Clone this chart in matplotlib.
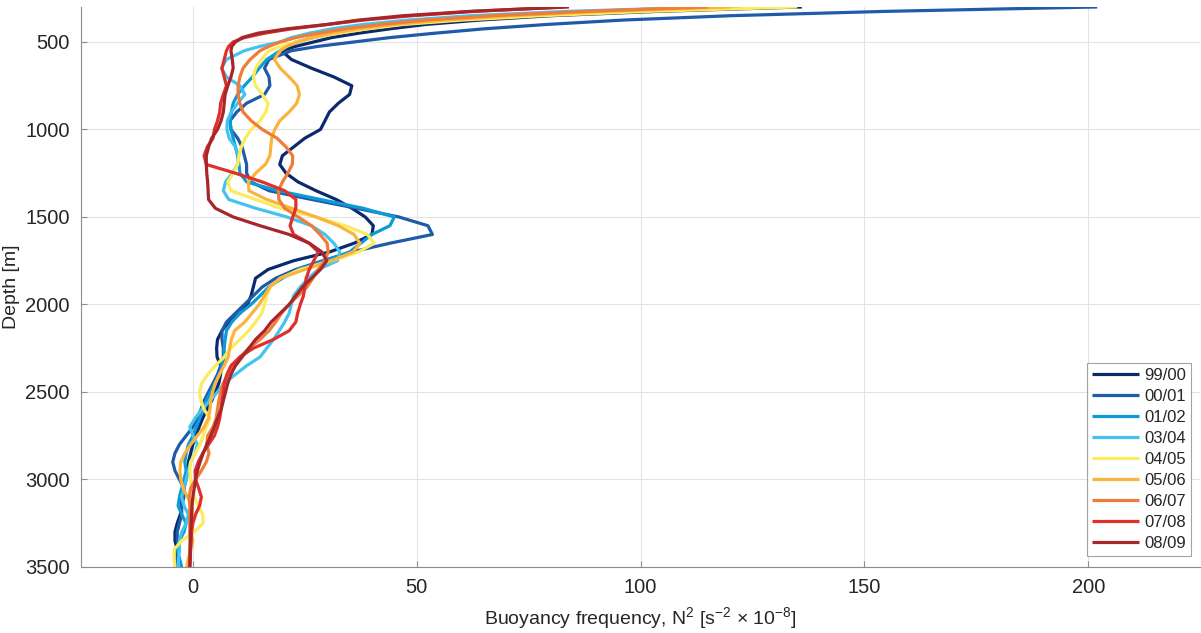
import matplotlib
matplotlib.use("Agg")
import matplotlib.pyplot as plt

plt.rcParams['font.family'] = ['Liberation Sans', 'DejaVu Sans']
plt.rcParams['mathtext.default'] = 'regular'

# sampling depths (m)
depth = [300, 325, 350, 375, 400, 425, 450, 475, 500, 525, 550,
         600, 650, 700, 750, 800, 850, 900, 950, 1000, 1050,
         1100, 1150, 1200, 1250, 1300, 1350, 1400, 1450, 1500, 1550,
         1600, 1650, 1700, 1750, 1800, 1850, 1900, 1950, 2000, 2050,
         2100, 2150, 2200, 2250, 2300, 2350, 2400, 2450, 2500, 2550,
         2600, 2650, 2700, 2750, 2800, 2850, 2900, 2950, 3000, 3050,
         3100, 3150, 3200, 3250, 3300, 3350, 3400, 3450, 3500]

# N^2 profiles, 1e-8 s^-2
n2_9900 = [136, 104, 80, 64, 52, 44, 37, 31, 27, 23, 19.8,
           22, 26.5, 31.5, 35.5, 35, 32.5, 30.5, 29.5, 28.5, 25,
           22.5, 20, 19.4, 20.8, 23.5, 27.5, 32, 35.5, 38.5, 40.3,
           40, 36, 30.5, 22.5, 16.8, 14, 13.5, 13, 12.2, 10.5,
           8, 6.5, 5.5, 5.3, 5.4, 6.2, 6.2, 5.8, 5, 4.2,
           3.1, 2.2, 1.4, 0.6, 0, -0.5, -1, -1.2, -1.5, -2,
           -2.5, -2.5, -2.8, -3.5, -4, -4, -3.5, -3.5, -3.5]
n2_0001 = [202, 155, 120, 96, 79, 65, 54, 44, 36, 28, 22,
           17, 16, 17, 17.2, 16, 12, 9.8, 8.3, 8.5, 10,
           11, 11.5, 12, 12, 13, 17, 26.5, 36.5, 46, 52.5,
           53.5, 44, 35.5, 29, 23, 18.5, 15.5, 13.5, 11.5, 9.5,
           7.5, 6.5, 6.5, 6.8, 6.8, 6.2, 5.5, 4.5, 3.5, 2.5,
           1.8, 1, 0, -1.5, -3, -4, -4.5, -4, -3, -2,
           -2, -2.5, -2.5, -3, -3.5, -3.5, -3, -3.5, -3.5]
n2_0102 = [116, 90, 70, 56, 46, 38, 32, 27, 23, 21, 19.5,
           16.5, 14.8, 13.3, 11.5, 10, 9, 8.6, 8.3, 8.5, 9,
           9.5, 10, 10.3, 10.5, 12, 19, 28.5, 38, 45, 44,
           40, 37.5, 35, 29.5, 23.5, 20, 17, 15, 13, 10.5,
           8.7, 7.5, 7.2, 7, 7, 6.5, 6, 5, 4, 3,
           2.2, 1.5, 0.8, 0, -1, -1.5, -1.8, -1.5, -2, -2.5,
           -3, -3.3, -2.5, -1.5, -2, -3, -3.5, -3, -2.5]
n2_0304 = [116, 84, 62, 48, 38, 31, 26, 22, 19.5, 15, 11.5,
           7.5, 6.4, 7.5, 10.5, 11.6, 10, 8.6, 7.7, 7.6, 8.1,
           9.5, 10.2, 10, 8.8, 7.3, 6.8, 8, 14, 21, 26.5,
           29.5, 31.5, 32.8, 32.3, 28, 25.8, 24, 22.5, 22, 21.5,
           20.5, 19.3, 18, 16.5, 15, 12, 9.5, 7, 5.5, 3.8,
           2, 0.5, -0.7, 0, 1, 0.5, -0.5, -1, -1.5, -2,
           -2.5, -2, -1, -1.5, -2.5, -3, -3, -3.2, -3.3]
n2_0405 = [135, 102, 78, 60, 47, 39, 32.5, 27, 23, 19.5, 17,
           15.3, 14, 13.5, 14, 15.5, 16.8, 16.3, 15, 13, 11.7,
           10.8, 10.3, 10, 9, 7.8, 8.5, 14, 19.5, 27.5, 34,
           39, 40.5, 37, 31, 24, 19.5, 17.3, 16.5, 16, 15.4,
           14, 12.5, 10.5, 8.5, 7, 5, 3.3, 2, 1.5, 1.8,
           2.5, 3.8, 3, 2.3, 1.6, 0.5, -0.5, -0.7, -0.5, -0.3,
           0.3, 1.2, 2.2, 2.3, 0.3, -2.5, -4.2, -4.2, -4]
n2_0506 = [120, 92, 71, 56, 45, 37, 31, 26.5, 23.5, 21, 19.5,
           18.2, 19.5, 21.5, 23.3, 23.8, 23.2, 21.5, 19.4, 18.3, 17.6,
           17.4, 17.2, 16.2, 14, 12.4, 12.5, 16.5, 22, 27.5, 32.5,
           36, 37.3, 35.8, 31, 25, 19.5, 17.2, 16, 14.8, 13.2,
           11.6, 9.3, 8.6, 8.2, 7.9, 7, 5.9, 5, 4.4, 4,
           3.8, 3.5, 2.5, 1, -0.5, -1.8, -2.7, -2.9, -2.7, -2.2,
           -1.2, -0.2, 0, -0.5, -0.5, 0, -0.5, -1, -1.4]
n2_0607 = [115, 88, 67, 52, 42, 34, 28, 23, 19.5, 17, 15,
           12.8, 11.2, 10.5, 10.1, 10.1, 10.5, 11.2, 13, 15.5, 18.8,
           20.8, 22.3, 22.2, 21.2, 20, 19.1, 19.2, 20.5, 23.5, 26.5,
           28.4, 30, 30.2, 29.5, 28, 26.8, 25.5, 23.5, 21.5, 19.8,
           18.5, 17, 15, 12.5, 10.5, 9, 7.8, 6.8, 6.2, 5.8,
           5.5, 5.2, 4.5, 3.3, 3.1, 3.6, 3, 1.9, 0.6, -0.5,
           -0.8, -0.7, -0.7, -0.7, -0.7, -0.7, -0.7, -0.7, -0.7]
n2_0708 = [83, 63, 49, 38, 30, 22, 16, 11.5, 9, 8, 7.5,
           7, 6.5, 7, 7.5, 6.8, 6.2, 6, 5.5, 4.8, 4.5,
           3.2, 2.5, 3, 9.5, 15.5, 20.5, 23, 23, 22.3, 21.7,
           22.5, 26, 28, 27, 26, 25.3, 25, 24.7, 24, 23.4,
           23, 21.5, 18, 13.5, 10.5, 8.5, 7.6, 7, 6.8, 6.5,
           6.3, 6, 5.5, 4.8, 3.5, 2.2, 1.2, 0.5, 0.6, 1.3,
           1.9, 1.5, 0.6, 0, -0.3, -0.4, -0.5, -0.6, -0.7]
n2_0809 = [84, 62, 47, 37, 30, 21, 14.5, 11, 9.5, 8.7, 8.5,
           8.8, 9, 8.5, 7.8, 7.2, 7, 6.8, 6.3, 5.5, 4.2,
           3.5, 3, 3, 3.1, 3.3, 3.4, 3.5, 5, 9, 15,
           21.5, 26, 28.8, 29.9, 28.5, 26.5, 24.5, 23, 21.5, 19.5,
           17.5, 16, 14, 12.5, 11, 9.5, 8.5, 7.8, 7.3, 6.8,
           6.3, 5.5, 4.8, 4, 3.1, 2.3, 1.6, 1, 0.6, 0.3,
           0, -0.2, -0.3, -0.4, -0.5, -0.5, -0.6, -0.6, -0.7]

labels = ['99/00', '00/01', '01/02', '03/04', '04/05', '05/06', '06/07', '07/08', '08/09']
colors = ['#0b2a6e', '#1f5ba8', '#0d9bd8', '#43c3ef', '#fbec5d',
          '#fab43e', '#f07c39', '#df302c', '#a6262b']
profiles = [n2_9900, n2_0001, n2_0102, n2_0304, n2_0405,
            n2_0506, n2_0607, n2_0708, n2_0809]

fig = plt.figure(figsize=(12.01, 6.33), dpi=100)
ax = fig.add_axes([0.0674, 0.1043, 0.932, 0.8847])

for lab, vals, col in zip(labels, profiles, colors):
    ax.plot(vals, depth, color=col, lw=2.3, label=lab,
            solid_joinstyle='round', solid_capstyle='butt')

ax.set_xlim(-25, 225)
ax.set_ylim(3500, 300)
ax.set_xticks([0, 50, 100, 150, 200])
ax.set_yticks([500, 1000, 1500, 2000, 2500, 3000, 3500])
ax.grid(True, color='#e3e3e3', lw=0.8)
ax.set_axisbelow(True)

for s in ['top', 'right']:
    ax.spines[s].set_visible(False)
for s in ['left', 'bottom']:
    ax.spines[s].set_color('#8c8c8c')
    ax.spines[s].set_linewidth(0.8)
ax.tick_params(direction='in', length=4, width=0.8, color='#8c8c8c',
               labelsize=14.5, labelcolor='#262626', pad=8)

ax.set_xlabel(r'Buoyancy frequency, N$^2$ [s$^{-2}$ $\times$ 10$^{-8}$]',
              fontsize=14, color='#262626', labelpad=6)
ax.set_ylabel('Depth [m]', fontsize=14, color='#262626', labelpad=4)

leg = ax.legend(loc='lower right', bbox_to_anchor=(0.992, 0.02), fontsize=12,
                frameon=True, fancybox=False, edgecolor='#8c8c8c',
                handlelength=2.8, labelspacing=0.36, borderpad=0.3,
                handletextpad=0.35, borderaxespad=0)
leg.get_frame().set_linewidth(0.8)
for t in leg.get_texts():
    t.set_color('#262626')

fig.savefig('out.png', dpi=100)
